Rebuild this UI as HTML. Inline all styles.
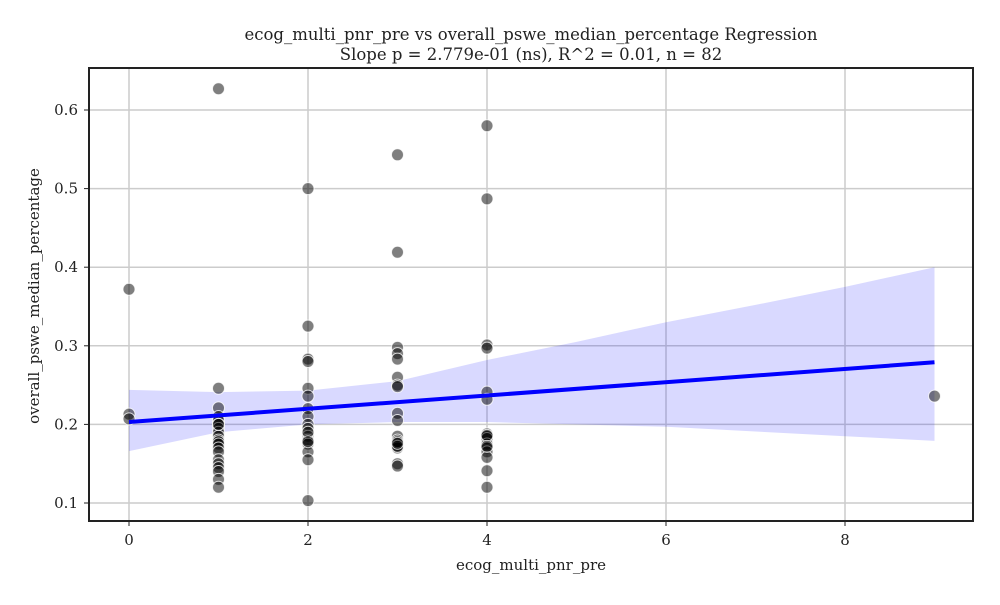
<!DOCTYPE html>
<html><head><meta charset="utf-8"><style>
body{margin:0;background:#fff}
svg text{font-family:"DejaVu Serif","Liberation Serif",serif;fill:#222}
</style></head><body>
<svg id="chart" width="1000" height="600">
<g id="grid"></g><g id="band"></g><g id="pts"></g><g id="fit"></g><g id="axes"></g>
<text x="531" y="40" text-anchor="middle" font-size="16.5">ecog_multi_pnr_pre vs overall_pswe_median_percentage Regression</text>
<text x="531" y="60" text-anchor="middle" font-size="16.5">Slope p = 2.779e-01 (ns), R^2 = 0.01, n = 82</text>
<text x="531" y="570" text-anchor="middle" font-size="15">ecog_multi_pnr_pre</text>
<text transform="translate(39,296) rotate(-90)" text-anchor="middle" font-size="15">overall_pswe_median_percentage</text>
</svg>
<script>
const xTicks=[0,2,4,6,8];
const yTicks=[0.1,0.2,0.3,0.4,0.5,0.6];
const ptX=[0,0,0,
1,1,1,1,1,1,1,1,1,1,1,1,1,1,1,1,1,1,1,1,1,
2,2,2,2,2,2,2,2,2,2,2,2,2,2,2,2,2,2,
3,3,3,3,3,3,3,3,3,3,3,3,3,3,3,3,3,3,3,3,
4,4,4,4,4,4,4,4,4,4,4,4,4,4,4,4,4,
9];
const ptY=[0.213,0.207,0.372,
0.627,0.246,0.221,0.21,0.205,0.2,0.195,0.19,0.185,0.18,0.178,0.175,0.17,0.165,0.155,0.15,0.145,0.14,0.13,0.12,0.2,
0.5,0.325,0.283,0.28,0.246,0.236,0.22,0.21,0.2,0.195,0.185,0.18,0.175,0.165,0.155,0.103,0.19,0.178,
0.543,0.419,0.298,0.29,0.283,0.26,0.25,0.248,0.214,0.205,0.185,0.18,0.175,0.173,0.17,0.15,0.147,0.178,0.172,0.176,
0.58,0.487,0.301,0.297,0.241,0.232,0.188,0.185,0.182,0.175,0.17,0.165,0.158,0.141,0.12,0.186,0.172,
0.236];
const fitX=[0,9];
const fitY=[0.203,0.279];
const bandX=[0,1,2,3,4,5,6,7,8,9];
const bandUpper=[0.244,0.241,0.243,0.255,0.282,0.305,0.33,0.352,0.375,0.4];
const bandLower=[0.166,0.19,0.2,0.203,0.203,0.2,0.197,0.191,0.185,0.179];
const L=89,R=973,T=68,B=521;
const sx=v=>129+v*89.5, sy=v=>503-(v-0.1)*786;
const NS="http://www.w3.org/2000/svg";
function mk(tag,attrs,parent){const e=document.createElementNS(NS,tag);for(const k in attrs)e.setAttribute(k,attrs[k]);document.getElementById(parent).appendChild(e);return e;}
xTicks.forEach(t=>{
 const g=mk('line',{x1:sx(t),x2:sx(t),y1:T,y2:B,stroke:'#cccccc','stroke-width':1.5},'grid');
 
 
 mk('line',{x1:sx(t),x2:sx(t),y1:B,y2:B+5,stroke:'#222'},'axes');
 const tx=mk('text',{x:sx(t),y:B+24,'text-anchor':'middle','font-size':15},'axes');tx.textContent=t;
 
 
});
yTicks.forEach(t=>{
 const g=mk('line',{x1:L,x2:R,y1:sy(t),y2:sy(t),stroke:'#cccccc','stroke-width':1.5},'grid');
 
 
 mk('line',{x1:L-5,x2:L,y1:sy(t),y2:sy(t),stroke:'#222'},'axes');
 const tx=mk('text',{x:L-11,y:sy(t)+5,'text-anchor':'end','font-size':15},'axes');tx.textContent=t.toFixed(1);
 
 
});
let d='M'+bandX.map((x,i)=>sx(x)+','+sy(bandUpper[i])).join('L');
for(let i=bandX.length-1;i>=0;i--)d+='L'+sx(bandX[i])+','+sy(bandLower[i]);
const band=mk('path',{d:d+'Z',fill:'#0000ff','fill-opacity':0.15},'band');


ptX.forEach((x,i)=>{
 const c=mk('circle',{cx:sx(x),cy:sy(ptY[i]),r:6,fill:'#000','fill-opacity':0.5,stroke:'#fff','stroke-opacity':0.8,'stroke-width':1},'pts');
 
 
});
const fl=mk('line',{x1:sx(fitX[0]),y1:sy(fitY[0]),x2:sx(fitX[1]),y2:sy(fitY[1]),stroke:'#0000ff','stroke-width':4},'fit');


const fr=mk('rect',{x:L,y:T,width:R-L,height:B-T,fill:'none',stroke:'#222','stroke-width':2},'axes');


</script>
</body></html>
